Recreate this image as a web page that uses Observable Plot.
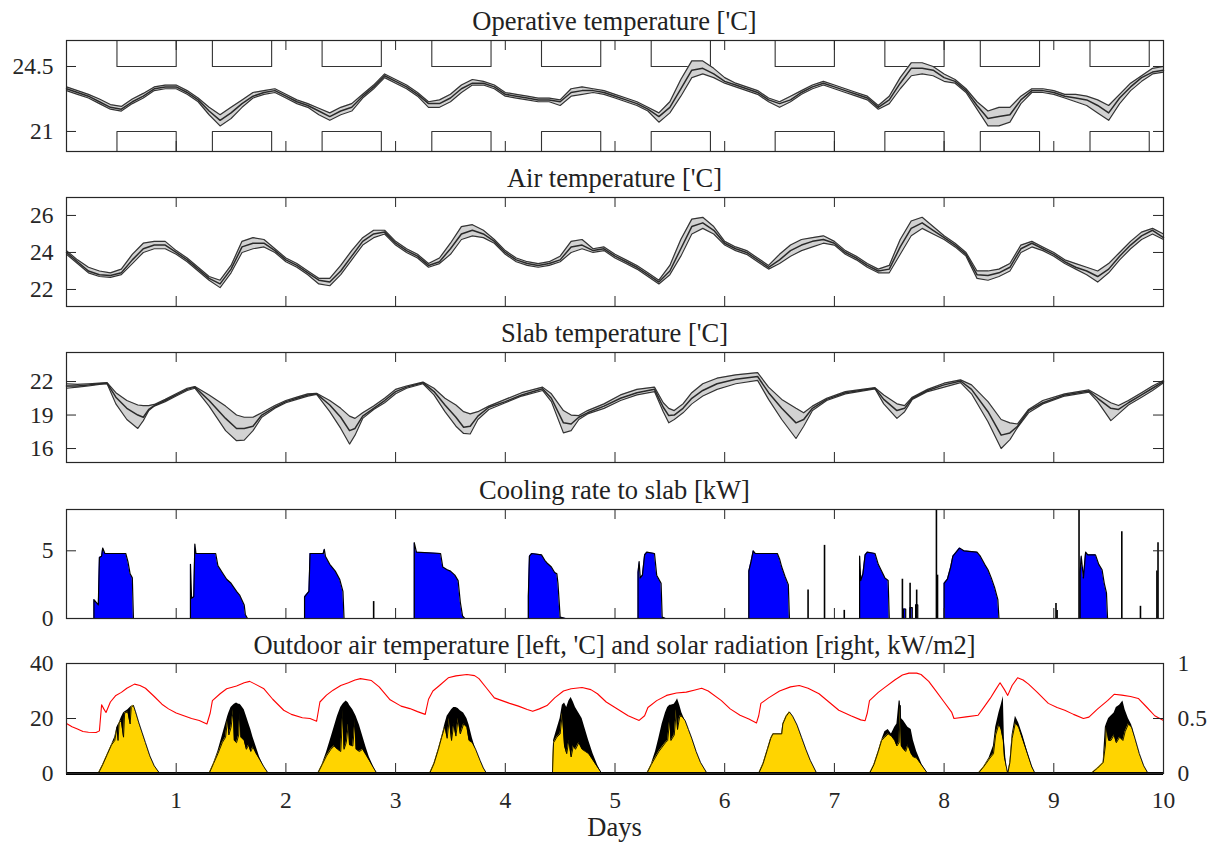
<!DOCTYPE html>
<html>
<head>
<meta charset="utf-8">
<script src="https://cdn.jsdelivr.net/npm/d3@7"></script>
<script src="https://cdn.jsdelivr.net/npm/@observablehq/plot@0.6"></script>
<style>
  body { margin: 0; background: #fff; }
  #chart { position: relative; width: 1211px; height: 846px; font-family: "Liberation Serif", "Times New Roman", serif; color: #222; }
  .title { position: absolute; left: 66px; width: 1097px; text-align: center; font-size: 26.5px; line-height: 26px; white-space: nowrap; }
</style>
</head>
<body>
<div id="chart"></div>
<script>
// ---------- data ----------
// Time axis for the room temperature series (every 0.1 day)
const dayGrid = d3.range(101).map(i => i / 10);

// Occupied hours: comfort band applies between start and end of each day
const occStart = [0.46, 1.33, 2.33, 3.33, 4.33, 5.33, 6.46, 7.46, 8.33, 9.33];
const occEnd   = [1.0, 1.87, 2.87, 3.87, 4.87, 5.87, 7.0, 8.0, 8.87, 9.87];
const comfortHigh = 24.5;
const comfortLow = 21;

// Operative temperature [°C]: lowest, median and highest zone
const opMid = [23.3,23.1,22.9,22.6,22.3,22.2,22.6,22.9,23.3,23.4, 23.4,23.1,22.7,22.1,21.6,22.0,22.5,22.9,23.1,23.2, 22.9,22.6,22.4,22.1,21.8,22.1,22.3,22.9,23.4,24.0, 23.7,23.4,23.0,22.5,22.5,22.8,23.3,23.6,23.6,23.4, 23.0,22.9,22.8,22.7,22.7,22.6,23.1,23.2,23.2,23.1, 22.9,22.7,22.5,22.2,21.8,22.3,23.3,24.3,24.4,24.1, 23.7,23.5,23.3,23.1,22.7,22.5,22.7,23.1,23.4,23.6, 23.4,23.2,23.0,22.8,22.3,22.7,23.6,24.4,24.4,24.3, 23.9,23.7,23.2,22.4,21.7,21.8,21.9,22.7,23.2,23.2, 23.1,22.9,22.8,22.7,22.4,22.0,22.8,23.4,23.9,24.2, 24.3];
const opLo = [23.2,23.0,22.8,22.5,22.2,22.1,22.5,22.8,23.2,23.3, 23.3,23.0,22.6,21.9,21.3,21.7,22.3,22.8,23.0,23.1, 22.8,22.5,22.3,21.9,21.6,21.9,22.1,22.8,23.3,23.9, 23.6,23.3,22.9,22.3,22.3,22.6,23.1,23.5,23.5,23.3, 22.9,22.8,22.7,22.6,22.6,22.4,22.9,23.0,23.1,23.0, 22.8,22.6,22.4,22.1,21.5,22.0,22.9,23.9,24.1,23.9, 23.6,23.4,23.2,23.0,22.6,22.3,22.6,23.0,23.3,23.5, 23.3,23.1,22.9,22.7,22.2,22.5,23.3,24.0,24.1,24.0, 23.7,23.6,23.1,22.2,21.3,21.3,21.5,22.5,23.1,23.1, 23.0,22.8,22.6,22.4,22.0,21.6,22.5,23.2,23.7,24.1, 24.2];
const opHi = [23.4,23.2,23.0,22.75,22.45,22.35,22.75,23.05,23.4,23.5, 23.5,23.2,22.8,22.3,21.9,22.3,22.7,23.1,23.2,23.3, 23.0,22.7,22.5,22.25,22.0,22.3,22.5,23.0,23.5,24.1, 23.8,23.5,23.1,22.6,22.7,23.0,23.5,23.8,23.7,23.5, 23.1,23.0,22.9,22.8,22.8,22.7,23.3,23.4,23.3,23.2, 23.0,22.8,22.6,22.3,22.0,22.6,23.8,24.8,24.8,24.4, 23.9,23.6,23.4,23.2,22.8,22.6,22.9,23.2,23.5,23.7, 23.5,23.3,23.1,22.9,22.4,22.9,23.9,24.7,24.7,24.5, 24.1,23.8,23.3,22.6,22.1,22.3,22.3,22.9,23.3,23.3, 23.2,23.0,23.0,22.9,22.7,22.4,23.0,23.6,24.0,24.4, 24.5];

// Air temperature [°C]
const airMid = [24.0,23.5,23.0,22.8,22.75,22.9,23.6,24.2,24.4,24.4, 24.0,23.6,23.1,22.6,22.3,23.1,24.3,24.5,24.5,24.1, 23.6,23.3,22.9,22.5,22.4,23.0,23.8,24.6,25.0,25.1, 24.5,24.1,23.8,23.3,23.5,24.2,25.0,25.2,25.0,24.6, 24.0,23.6,23.4,23.3,23.4,23.6,24.3,24.4,24.1,24.2, 23.8,23.5,23.2,22.8,22.4,23.0,24.2,25.4,25.6,25.2, 24.5,24.2,24.0,23.6,23.2,23.6,24.1,24.4,24.6,24.7, 24.5,24.0,23.7,23.3,23.0,23.1,24.3,25.3,25.6,25.2, 24.8,24.4,23.9,22.8,22.75,22.9,23.2,24.2,24.5,24.2, 23.9,23.5,23.2,23.0,22.7,23.1,23.8,24.4,24.9,25.2, 24.8];
const airLo = [23.9,23.4,22.9,22.7,22.65,22.8,23.4,24.0,24.2,24.2, 23.9,23.5,23.0,22.5,22.1,22.9,24.0,24.2,24.3,24.0, 23.5,23.2,22.8,22.3,22.2,22.8,23.6,24.4,24.8,25.0, 24.4,24.0,23.7,23.2,23.4,23.9,24.7,24.9,24.8,24.5, 23.9,23.5,23.3,23.2,23.3,23.5,24.0,24.2,24.0,24.1, 23.7,23.4,23.1,22.7,22.3,22.8,23.8,25.0,25.3,25.0, 24.4,24.1,23.9,23.5,23.1,23.4,23.8,24.1,24.3,24.5, 24.4,23.9,23.6,23.2,22.9,22.9,23.9,24.9,25.3,25.0, 24.7,24.3,23.8,22.6,22.5,22.7,23.0,24.0,24.3,24.1, 23.8,23.4,23.1,22.8,22.4,22.9,23.6,24.2,24.7,25.0, 24.7];
const airHi = [24.1,23.6,23.2,23.0,22.9,23.1,23.9,24.5,24.6,24.6, 24.1,23.7,23.2,22.7,22.5,23.3,24.6,24.8,24.7,24.2, 23.7,23.4,23.0,22.6,22.6,23.3,24.1,24.8,25.2,25.2, 24.6,24.2,23.9,23.4,23.7,24.5,25.4,25.5,25.2,24.7, 24.1,23.7,23.5,23.4,23.5,23.8,24.6,24.7,24.2,24.3, 23.9,23.6,23.3,22.9,22.5,23.3,24.7,25.8,25.9,25.4, 24.6,24.3,24.1,23.7,23.3,23.9,24.4,24.7,24.8,24.9, 24.6,24.1,23.8,23.4,23.1,23.3,24.7,25.7,25.9,25.4, 24.9,24.5,24.0,23.0,23.0,23.1,23.4,24.4,24.6,24.3, 24.0,23.6,23.4,23.2,23.0,23.4,24.0,24.6,25.1,25.3, 25.0];

// Slab temperature [°C], sampled at the turning points of each cooling cycle
const slabDays = [0,0.1,0.2,0.3,0.37,0.45,0.55,0.65,0.7,0.75, 0.8,0.9,1.0,1.1,1.17,1.3,1.45,1.55,1.62,1.7, 1.78,1.9,2.0,2.1,2.2,2.28,2.4,2.5,2.58,2.63, 2.7,2.8,2.9,3.0,3.1,3.25,3.35,3.45,3.55,3.62, 3.68,3.75,3.85,4.0,4.15,4.34,4.42,4.53,4.6,4.67, 4.75,4.9,5.05,5.2,5.36,5.44,5.49,5.54,5.62,5.7, 5.8,5.93,6.1,6.3,6.4,6.52,6.65,6.72,6.8,6.93, 7.1,7.37,7.45,7.57,7.64,7.71,7.85,8.0,8.15,8.25, 8.4,8.52,8.6,8.67,8.77,8.9,9.1,9.32,9.4,9.52, 9.59,9.68,9.8,9.9,10];
const slabLo = [21.4,21.5,21.6,21.75,21.8,20.0,18.6,17.8,18.5,19.4, 19.8,20.2,20.7,21.2,21.4,19.8,17.6,16.7,16.75,17.6, 18.8,19.6,20.1,20.4,20.7,20.85,19.3,17.8,16.4,17.2, 18.7,19.5,20.1,20.9,21.4,21.8,20.8,19.3,18.0,17.35, 17.3,18.6,19.5,20.1,20.7,21.2,20.2,17.4,17.6,18.6, 19.1,19.6,20.3,20.8,21.1,19.3,18.3,18.6,19.2,20.0, 20.7,21.3,21.8,22.1,20.4,18.6,16.9,18.0,19.4,20.3, 20.9,21.35,20.0,18.7,19.3,20.4,21.1,21.5,21.9,20.9, 18.4,16.0,16.8,17.9,19.2,20.0,20.7,21.05,20.2,18.5, 19.1,19.9,20.6,21.2,21.9];
const slabMid = [21.6,21.6,21.7,21.8,21.85,20.6,19.6,19.0,18.8,19.5, 19.85,20.3,20.8,21.3,21.5,20.3,18.7,17.8,17.8,18.0, 19.0,19.7,20.2,20.5,20.8,20.9,19.9,18.8,17.6,17.8, 18.9,19.6,20.3,21.1,21.5,21.9,21.1,19.9,18.8,17.9, 18.0,18.9,19.7,20.2,20.8,21.35,20.5,18.3,18.2,18.8, 19.2,19.8,20.5,21.0,21.3,19.7,18.95,19.0,19.6,20.5, 21.2,21.8,22.2,22.45,21.0,19.6,18.3,18.6,19.6,20.4, 21.0,21.4,20.4,19.4,19.6,20.5,21.2,21.7,22.05,21.3, 19.3,17.2,17.4,18.0,19.4,20.1,20.8,21.15,20.5,19.6, 19.5,20.1,20.8,21.4,22.0];
const slabHi = [21.8,21.75,21.8,21.85,21.9,21.0,20.3,19.9,19.85,19.85, 19.95,20.4,20.9,21.4,21.55,20.8,19.8,19.0,18.8,18.8, 19.2,19.85,20.3,20.6,20.9,20.95,20.3,19.6,18.9,18.7, 19.2,19.8,20.5,21.3,21.6,21.95,21.4,20.5,19.9,19.3, 19.1,19.3,19.8,20.4,21.0,21.5,20.9,19.4,19.0,18.95, 19.4,20.0,20.8,21.3,21.5,20.1,19.6,19.4,20.0,21.0, 21.8,22.3,22.6,22.8,21.5,20.4,19.6,19.2,19.8,20.5, 21.1,21.45,20.8,20.0,19.85,20.6,21.3,21.85,22.15,21.7, 20.2,18.6,18.3,18.2,19.5,20.3,20.9,21.25,20.8,20.1, 19.85,20.3,21.0,21.6,22.1];

// Cooling rate to slab [kW]
const coolDays = [0,
  0.25,0.25,0.29,0.30,0.32,0.33,0.35,0.54,0.56,0.58,0.60,0.61,
  1.13,1.13,1.14,1.16,1.17,1.18,1.36,1.38,1.42,1.46,1.50,1.55,1.58,1.62,1.63,1.65,
  2.17,2.17,2.21,2.22,2.34,2.35,2.36,2.40,2.45,2.49,2.52,2.53,
  3.17,3.17,3.19,3.41,3.43,3.47,3.50,3.54,3.57,3.59,3.61,3.63,
  4.21,4.21,4.22,4.24,4.33,4.36,4.38,4.42,4.45,4.47,4.48,4.50,4.55,
  5.21,5.21,5.22,5.23,5.25,5.27,5.29,5.36,5.38,5.42,5.43,5.46,
  6.22,6.22,6.24,6.26,6.28,6.48,6.50,6.52,6.55,6.58,6.59,
  7.23,7.23,7.24,7.26,7.28,7.30,7.37,7.40,7.43,7.46,7.49,7.50,
  7.63,7.63,7.65,7.65, 7.69,7.69,7.71,7.71, 7.74,7.74,7.76,7.76,
  8.00,8.00,8.03,8.06,8.08,8.11,8.14,8.18,8.30,8.33,8.37,8.40,8.43,8.46,8.49,8.50,
  9.24,9.24,9.25,9.27,9.29,9.31,9.38,9.41,9.44,9.46,9.48,9.49,
  10];
const coolKW = [0,
  0,1.4,1.0,4.5,4.6,5.2,4.8,4.8,4.2,3.3,3.0,0,
  0,4.0,1.5,1.6,5.5,4.8,4.8,3.9,3.4,2.9,2.6,2.0,1.7,1.0,0.3,0,
  0,1.6,2.0,4.8,4.8,5.1,4.6,4.0,3.5,2.9,2.0,0,
  0,5.6,4.9,4.8,3.8,3.6,3.5,3.2,2.8,1.2,0.2,0,
  0,1.6,4.6,4.8,4.7,4.3,4.1,3.8,3.4,3.3,2.6,0.1,0,
  0,3.4,4.2,3.0,3.2,4.7,4.9,4.8,3.2,2.6,0.1,0,
  0,3.5,4.2,5.0,4.8,4.8,4.4,3.8,3.1,2.5,0,
  0,4.6,2.8,3.3,4.7,4.9,4.8,4.0,3.5,3.0,2.8,0,
  0,0.7,0.7,0, 0,0.8,0.8,0, 0,1.0,1.0,0,
  0,2.6,2.9,3.8,4.6,4.9,5.2,5.0,4.9,4.6,4.0,3.6,3.0,2.3,1.4,0,
  0,3.4,4.6,3.0,4.9,4.7,4.7,4.0,3.6,2.6,1.9,0,
  0];
// Short cooling pulses outside the main periods
const pulseDays = [2.80, 6.76, 6.91, 7.09, 7.62, 7.69, 7.75, 7.93, 7.94, 9.02, 9.03, 9.23, 9.62, 9.79, 9.94, 9.95];
const pulseKW   = [1.25, 2.1, 5.4, 0.6, 2.9, 2.6, 2.1, 8.1, 3.2, 1.1, 0.6, 8.1, 6.4, 0.9, 3.5, 5.6];

// Outdoor air temperature [°C]
const outdoorDays = [0,0.05,0.1,0.15,0.2,0.27,0.3,0.32,0.34,0.36, 0.4,0.45,0.5,0.55,0.62,0.67,0.72,0.8,0.87,0.93, 1,1.07,1.14,1.21,1.28,1.31,1.33,1.4,1.46,1.55, 1.62,1.67,1.72,1.8,1.88,1.98,2.05,2.15,2.22,2.28, 2.31,2.37,2.43,2.5,2.57,2.63,2.68,2.78,2.85,2.95, 3.05,3.13,3.2,3.27,3.3,3.34,3.4,3.48,3.55,3.65, 3.72,3.76,3.83,3.9,3.97,4.04,4.12,4.2,4.25,4.31, 4.38,4.45,4.53,4.6,4.7,4.78,4.84,4.92,5.04,5.12, 5.22,5.27,5.3,5.38,5.47,5.56,5.65,5.72,5.79,5.85, 5.97,6.05,6.14,6.22,6.29,6.31,6.33,6.4,6.5,6.6, 6.68,6.76,6.86,6.95,7.04,7.15,7.24,7.28,7.3,7.32, 7.4,7.46,7.55,7.62,7.68,7.75,7.79,7.86,7.92,8, 8.07,8.09,8.2,8.31,8.37,8.42,8.47,8.51,8.55,8.58, 8.62,8.67,8.72,8.77,8.85,8.95,9.03,9.1,9.18,9.27, 9.32,9.4,9.49,9.55,9.62,9.7,9.77,9.85,9.92,10];
const outdoorTemp = [18.2,17.0,16.2,15.3,15.0,14.9,15.5,25.0,23.5,22.2, 26.0,28.4,29.5,31.0,32.5,32.0,31.0,28.0,25.2,23.5, 22.0,21.0,20.0,19.3,18.0,22.0,26.5,29.0,30.8,31.8, 33.0,33.5,32.5,30.8,27.0,23.0,21.5,20.3,20.0,19.0, 26.0,28.5,30.3,32.0,33.0,34.0,34.5,33.8,31.5,26.8, 24.5,23.6,22.5,21.5,27.0,30.0,32.0,34.8,35.5,36.0, 35.6,34.5,31.0,27.5,26.5,25.5,24.5,23.3,22.6,23.5, 24.7,27.5,30.0,30.8,31.3,30.5,29.0,26.0,23.0,21.0, 19.3,21.0,24.0,26.5,28.4,29.3,29.6,30.3,31.0,30.0, 26.5,23.5,21.2,19.8,18.4,21.0,25.5,27.5,30.0,31.5, 32.0,31.0,29.0,26.0,23.0,21.0,19.5,19.2,22.0,26.5, 29.5,31.3,34.0,35.8,36.5,36.5,36.0,33.5,30.3,26.0, 22.2,20.0,20.6,21.2,24.5,27.3,30.5,33.0,30.5,28.4, 32.0,34.8,34.0,32.5,29.5,25.5,24.0,23.0,21.5,20.0, 20.5,23.5,26.5,28.8,28.5,28.0,27.3,24.0,21.0,19.3];

// Solar radiation [kW/m2]: envelope (black) and measured (yellow)
const solarDays = [0,
  0.29,0.33,0.37,0.41,0.44,0.46,0.47,0.48,0.50,0.52,0.53,0.56,0.58,0.59,0.61,0.63,0.66,0.69,0.72,0.76,0.80,0.85,
  1.30,1.34,1.38,1.42,1.45,1.47,1.48,1.50,1.52,1.53,1.55,1.57,1.58,1.59,1.62,1.64,1.66,1.68,1.70,1.73,1.76,1.80,1.84,
  2.29,2.33,2.37,2.41,2.44,2.47,2.50,2.52,2.53,2.55,2.57,2.58,2.61,2.63,2.64,2.67,2.70,2.73,2.76,2.80,2.83,
  3.31,3.35,3.39,3.42,3.45,3.47,3.49,3.51,3.53,3.55,3.57,3.59,3.62,3.65,3.67,3.70,3.73,3.77,3.80,3.83,
  4.43,4.44,4.47,4.50,4.52,4.54,4.56,4.58,4.60,4.62,4.64,4.67,4.70,4.73,4.76,4.80,4.84,4.88,
  5.29,5.33,5.37,5.40,5.43,5.46,5.48,5.50,5.51,5.54,5.56,5.57,5.59,5.61,5.64,5.67,5.70,5.74,5.78,5.84,
  6.31,6.35,6.39,6.42,6.44,6.52,6.53,6.56,6.59,6.62,6.66,6.70,6.74,6.78,6.84,
  7.32,7.36,7.40,7.43,7.46,7.49,7.52,7.55,7.57,7.59,7.60,7.61,7.63,7.65,7.67,7.70,7.72,7.75,7.80,7.85,
  8.31,8.36,8.41,8.45,8.47,8.50,8.52,8.54,8.55,8.57,8.58,8.60,8.62,8.65,8.68,8.72,8.76,8.80,8.83,
  9.34,9.40,9.45,9.47,9.48,9.50,9.52,9.55,9.57,9.60,9.63,9.65,9.68,9.71,9.74,9.78,9.82,9.86,
  10];
const solarUpper = [0,
  0,0.08,0.17,0.26,0.33,0.42,0.44,0.46,0.51,0.55,0.56,0.58,0.60,0.61,0.62,0.56,0.46,0.37,0.28,0.16,0.07,0,
  0,0.09,0.20,0.34,0.45,0.52,0.55,0.60,0.62,0.63,0.64,0.63,0.63,0.62,0.58,0.52,0.46,0.40,0.33,0.24,0.15,0.06,0,
  0,0.08,0.19,0.32,0.42,0.52,0.60,0.63,0.64,0.66,0.64,0.62,0.58,0.54,0.52,0.44,0.34,0.24,0.15,0.06,0,
  0,0.09,0.22,0.33,0.45,0.52,0.55,0.58,0.60,0.60,0.59,0.57,0.55,0.50,0.44,0.32,0.22,0.12,0.05,0,
  0,0.30,0.40,0.50,0.62,0.64,0.60,0.66,0.69,0.65,0.60,0.55,0.50,0.40,0.30,0.18,0.08,0,
  0,0.08,0.20,0.32,0.45,0.55,0.60,0.62,0.62,0.63,0.66,0.68,0.62,0.55,0.48,0.40,0.32,0.20,0.10,0,
  0,0.09,0.22,0.32,0.36,0.36,0.45,0.52,0.56,0.52,0.44,0.33,0.22,0.12,0,
  0,0.08,0.20,0.30,0.38,0.40,0.36,0.42,0.45,0.66,0.66,0.50,0.48,0.45,0.42,0.40,0.30,0.20,0.08,0,
  0,0.06,0.14,0.25,0.42,0.55,0.62,0.70,0.30,0.05,0,0.10,0.35,0.52,0.46,0.34,0.20,0.07,0,
  0,0.05,0.10,0.42,0.45,0.50,0.52,0.55,0.60,0.62,0.66,0.58,0.50,0.44,0.32,0.18,0.07,0,
  0];
const solarLower = [0,
  0,0.08,0.17,0.26,0.30,0.42,0.30,0.46,0.48,0.33,0.55,0.56,0.45,0.60,0.62,0.56,0.46,0.37,0.28,0.16,0.07,0,
  0,0.09,0.18,0.28,0.33,0.50,0.35,0.42,0.58,0.30,0.28,0.35,0.55,0.33,0.30,0.22,0.26,0.20,0.24,0.18,0.13,0.06,0,
  0,0.08,0.16,0.22,0.25,0.22,0.20,0.58,0.22,0.28,0.45,0.26,0.25,0.48,0.22,0.20,0.22,0.17,0.12,0.05,0,
  0,0.09,0.22,0.33,0.43,0.32,0.50,0.30,0.45,0.34,0.50,0.36,0.45,0.42,0.30,0.28,0.22,0.12,0.05,0,
  0,0.28,0.33,0.36,0.55,0.25,0.18,0.30,0.15,0.25,0.22,0.28,0.22,0.20,0.18,0.12,0.06,0,
  0,0.08,0.15,0.20,0.24,0.28,0.30,0.50,0.30,0.35,0.58,0.40,0.52,0.52,0.48,0.40,0.32,0.20,0.10,0,
  0,0.09,0.22,0.32,0.36,0.36,0.45,0.52,0.56,0.52,0.44,0.33,0.22,0.12,0,
  0,0.08,0.20,0.30,0.33,0.36,0.34,0.30,0.25,0.28,0.62,0.25,0.22,0.20,0.26,0.18,0.15,0.14,0.07,0,
  0,0.06,0.13,0.18,0.35,0.45,0.40,0.30,0.15,0.05,0,0.10,0.32,0.46,0.42,0.30,0.18,0.06,0,
  0,0.05,0.10,0.25,0.42,0.30,0.30,0.35,0.28,0.33,0.30,0.38,0.45,0.42,0.32,0.18,0.07,0,
  0];

// Axis ticks
const dayTicks = [1, 2, 3, 4, 5, 6, 7, 8, 9];
const dayLabels = [1, 2, 3, 4, 5, 6, 7, 8, 9, 10];
const opTicks = [21, 24.5];
const airTicks = [22, 24, 26];
const slabTicks = [16, 19, 22];
const coolTicks = [0, 5];
const outdoorTicks = [0, 20, 40];
const solarScale = 40; // 1 kW/m2 on the right axis lines up with 40 °C on the left

const titles = [
  "Operative temperature ['C]",
  "Air temperature ['C]",
  "Slab temperature ['C]",
  "Cooling rate to slab [kW]",
  "Outdoor air temperature [left, 'C] and solar radiation [right, kW/m2]"
];

// ---------- helpers ----------
function checkLengths(name, ...arrays) {
  const n = arrays[0].length;
  arrays.forEach((a, i) => { if (a.length !== n) throw new Error(`${name}: array ${i} has ${a.length}, expected ${n}`); });
}
checkLengths("op", dayGrid, opMid, opLo, opHi);
checkLengths("air", dayGrid, airMid, airLo, airHi);
checkLengths("slab", slabDays, slabLo, slabMid, slabHi);
checkLengths("cool", coolDays, coolKW);
checkLengths("pulse", pulseDays, pulseKW);
checkLengths("outdoor", outdoorDays, outdoorTemp);
checkLengths("solar", solarDays, solarUpper, solarLower);

const zip = (keys, arrays) => arrays[0].map((_, i) => Object.fromEntries(keys.map((k, j) => [k, arrays[j][i]])));

const opData = zip(["day", "lo", "mid", "hi"], [dayGrid, opLo, opMid, opHi]);
const airData = zip(["day", "lo", "mid", "hi"], [dayGrid, airLo, airMid, airHi]);
const slabData = zip(["day", "lo", "mid", "hi"], [slabDays, slabLo, slabMid, slabHi]);
const coolData = zip(["day", "kw"], [coolDays, coolKW]);
const pulseData = zip(["day", "kw"], [pulseDays, pulseKW]);
const outdoorData = zip(["day", "t"], [outdoorDays, outdoorTemp]);
const solarData = zip(["day", "upper", "lower"], [solarDays, solarUpper, solarLower]);

// Comfort limits: active during occupied hours, unbounded (off the chart) otherwise
function boundPath(limit, offValue) {
  const pts = [];
  occStart.forEach((s, i) => {
    pts.push({day: s, v: offValue}, {day: s, v: limit}, {day: occEnd[i], v: limit}, {day: occEnd[i], v: offValue});
  });
  return pts;
}

const W = 1211, ML = 66, MR = 48;
const pxPerDay = (W - ML - MR) / 10;
const TICK = 10;
const INK = "#262626";
const FONT = '"Liberation Serif", "Times New Roman", serif';
const plainNumber = d => `${d}`;

function bandMarks(data) {
  return [
    Plot.areaY(data, {x: "day", y1: "lo", y2: "hi", fill: "#d2d2d2"}),
    Plot.lineY(data, {x: "day", y: "lo", stroke: "#333", strokeWidth: 1.2}),
    Plot.lineY(data, {x: "day", y: "hi", stroke: "#333", strokeWidth: 1.2}),
    Plot.lineY(data, {x: "day", y: "mid", stroke: "#2a2a2a", strokeWidth: 1.5})
  ];
}

function panel({top, bottom, domain, yTicks, marks, marginBottom = 2, extra = [], xAxis = false}) {
  const h = bottom - top;
  const tx = TICK / pxPerDay;
  const ty = TICK * (domain[1] - domain[0]) / h;
  const svg = Plot.plot({
    width: W,
    height: h + 1 + marginBottom,
    marginLeft: ML, marginRight: MR, marginTop: 1, marginBottom,
    x: {domain: [0, 10], ...(xAxis ? {} : {axis: null})},
    y: {domain},
    style: {fontFamily: FONT, fontSize: "23.5px", color: INK, background: "transparent", overflow: "visible"},
    marks: [
      ...marks,
      // inward ticks on all four sides
      Plot.ruleX(dayTicks, {x: d => d, y1: domain[0], y2: domain[0] + ty, stroke: INK}),
      Plot.ruleX(dayTicks, {x: d => d, y1: domain[1] - ty, y2: domain[1], stroke: INK}),
      Plot.ruleY(yTicks, {y: d => d, x1: 0, x2: tx, stroke: INK}),
      Plot.ruleY(yTicks, {y: d => d, x1: 10 - tx, x2: 10, stroke: INK}),
      Plot.axisY({ticks: yTicks, tickFormat: plainNumber, tickSize: 0, tickPadding: 13, label: null}),
      ...extra,
      Plot.frame({stroke: INK, strokeWidth: 1.2})
    ]
  });
  svg.style.position = "absolute";
  svg.style.left = "0px";
  svg.style.top = (top - 1) + "px";
  return svg;
}

// ---------- layout ----------
const chart = document.getElementById("chart");
const titleBaselines = [29.5, 187, 342, 499, 654];
titles.forEach((t, i) => {
  const div = document.createElement("div");
  div.className = "title";
  div.textContent = t;
  div.style.top = (titleBaselines[i] - 21.8) + "px";
  chart.appendChild(div);
});

// 1. Operative temperature with comfort limits
chart.appendChild(panel({
  top: 40, bottom: 151, domain: [19.92, 25.9], yTicks: opTicks,
  marks: [
    Plot.line(boundPath(comfortHigh, comfortHigh + 5), {x: "day", y: "v", stroke: "#333", strokeWidth: 1.1, clip: true}),
    Plot.line(boundPath(comfortLow, comfortLow - 5), {x: "day", y: "v", stroke: "#333", strokeWidth: 1.1, clip: true}),
    ...bandMarks(opData)
  ]
}));

// 2. Air temperature
chart.appendChild(panel({
  top: 197, bottom: 306, domain: [21.08, 26.97], yTicks: airTicks,
  marks: bandMarks(airData)
}));

// 3. Slab temperature
chart.appendChild(panel({
  top: 352, bottom: 462, domain: [14.75, 24.6], yTicks: slabTicks,
  marks: bandMarks(slabData)
}));

// 4. Cooling rate to slab
chart.appendChild(panel({
  top: 509, bottom: 618, domain: [0, 8.05], yTicks: coolTicks,
  marks: [
    Plot.areaY(coolData, {x: "day", y: "kw", fill: "#0000ff"}),
    Plot.lineY(coolData, {x: "day", y: "kw", stroke: "#000", strokeWidth: 1.2}),
    Plot.ruleX(pulseData, {x: "day", y1: 0, y2: "kw", stroke: "#000", strokeWidth: 1.6, clip: true})
  ]
}));

// 5. Outdoor temperature and solar radiation
chart.appendChild(panel({
  top: 663, bottom: 773, domain: [0, 40], yTicks: outdoorTicks, marginBottom: 45, xAxis: true,
  marks: [
    Plot.areaY(solarData, {x: "day", y: d => d.upper * solarScale, fill: "#000"}),
    Plot.areaY(solarData, {x: "day", y: d => d.lower * solarScale, fill: "#ffd400"}),
    Plot.lineY(solarData, {x: "day", y: d => d.lower * solarScale, stroke: "#000", strokeWidth: 0.9}),
    Plot.lineY(outdoorData, {x: "day", y: "t", stroke: "#ff0000", strokeWidth: 1.1}),
    Plot.ruleY([0], {stroke: "#000", strokeWidth: 3})
  ],
  extra: [
    Plot.axisY({anchor: "right", ticks: outdoorTicks, tickFormat: d => plainNumber(d / solarScale), tickSize: 0, tickPadding: 14, label: null}),
    Plot.axisX({ticks: dayLabels, tickFormat: plainNumber, tickSize: 0, tickPadding: 18, label: null})
  ]
}));

const xLabel = document.createElement("div");
xLabel.className = "title";
xLabel.textContent = "Days";
xLabel.style.top = (836 - 21.8) + "px";
chart.appendChild(xLabel);
</script>
</body>
</html>
